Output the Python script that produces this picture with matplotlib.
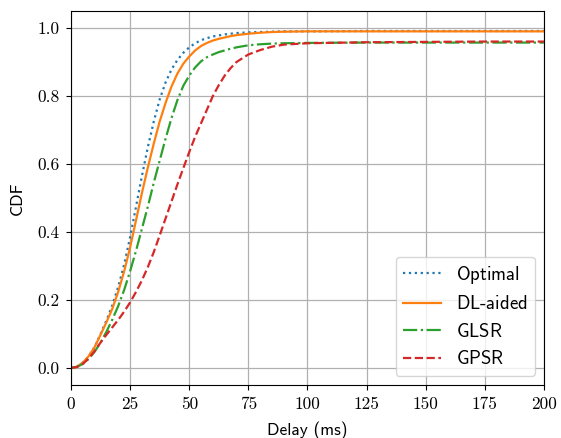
import matplotlib
matplotlib.use("Agg")
import matplotlib.pyplot as plt
from matplotlib.ticker import FuncFormatter

plt.rcParams["mathtext.fontset"] = "cm"

# delay grid (ms) and CDF of each routing scheme
delay = [0, 2.5, 5, 7.5, 10, 12.5, 15, 17.5, 20, 22.5, 25, 27.5, 30, 32.5,
         35, 37.5, 40, 42.5, 45, 47.5, 50, 52.5, 55, 57.5, 60, 62.5, 65,
         67.5, 70, 75, 80, 85, 90, 100, 125, 150, 175, 200]
cdf_optimal = [0.0, 0.004, 0.016, 0.035, 0.062, 0.100, 0.140, 0.185, 0.240,
               0.305, 0.385, 0.475, 0.565, 0.650, 0.725, 0.790, 0.840, 0.878,
               0.906, 0.927, 0.943, 0.955, 0.964, 0.970, 0.975, 0.978, 0.981,
               0.983, 0.985, 0.987, 0.988, 0.989, 0.990, 0.990, 0.991, 0.991,
               0.991, 0.991]
cdf_dl = [0.0, 0.004, 0.016, 0.035, 0.062, 0.098, 0.135, 0.175, 0.225, 0.285,
          0.355, 0.435, 0.515, 0.590, 0.660, 0.725, 0.780, 0.828, 0.866,
          0.895, 0.916, 0.934, 0.947, 0.956, 0.963, 0.968, 0.972, 0.976,
          0.979, 0.983, 0.986, 0.988, 0.989, 0.990, 0.990, 0.990, 0.990,
          0.990]
cdf_glsr = [0.0, 0.003, 0.012, 0.027, 0.048, 0.075, 0.107, 0.143, 0.183,
            0.230, 0.285, 0.345, 0.410, 0.475, 0.545, 0.610, 0.675, 0.735,
            0.788, 0.830, 0.860, 0.884, 0.902, 0.914, 0.922, 0.929, 0.934,
            0.939, 0.943, 0.949, 0.952, 0.954, 0.955, 0.956, 0.957, 0.957,
            0.957, 0.957]
cdf_gpsr = [0.0, 0.003, 0.012, 0.028, 0.050, 0.075, 0.098, 0.120, 0.142,
            0.166, 0.193, 0.224, 0.258, 0.297, 0.341, 0.390, 0.440, 0.490,
            0.540, 0.588, 0.635, 0.680, 0.720, 0.760, 0.800, 0.832, 0.860,
            0.882, 0.900, 0.922, 0.935, 0.945, 0.951, 0.955, 0.958, 0.959,
            0.960, 0.960]

series = [(r"$\mathsf{Optimal}$", cdf_optimal, "#1f77b4", ":"),
          (r"$\mathsf{DL}$-$\mathsf{aided}$", cdf_dl, "#ff7f0e", "-"),
          (r"$\mathsf{GLSR}$", cdf_glsr, "#2ca02c", "-."),
          (r"$\mathsf{GPSR}$", cdf_gpsr, "#d62728", "--")]

fig = plt.figure(figsize=(5.61, 4.38), dpi=100)
ax = fig.add_axes([0.1266, 0.121, 0.843, 0.854])

for name, vals, col, ls in series:
    ax.plot(delay, vals, color=col, linestyle=ls, linewidth=1.6, label=name)

ax.set_xlim(0, 200)
ax.set_ylim(-0.05, 1.05)
ax.set_xticks(range(0, 201, 25))
ax.set_yticks([0.0, 0.2, 0.4, 0.6, 0.8, 1.0])
ax.xaxis.set_major_formatter(FuncFormatter(lambda v, p: f"{v:.0f}"))
ax.yaxis.set_major_formatter(FuncFormatter(lambda v, p: f"{v:.1f}"))
ax.tick_params(pad=5)
for lab in ax.get_xticklabels() + ax.get_yticklabels():
    lab.set_fontfamily("cmr10")
    lab.set_fontsize(12.5)

ax.grid(True, color="#b0b0b0", linewidth=0.9)
ax.set_axisbelow(True)

ax.set_xlabel("Delay (ms)", family="cmss10", fontsize=12.5, labelpad=7)
ax.set_ylabel("CDF", family="cmss10", fontsize=12.5, labelpad=9)

leg = ax.legend(loc="lower right", prop={"family": "cmss10", "size": 13.5},
                handlelength=2.0, borderaxespad=0.5)

fig.savefig("out.png", dpi=100)
